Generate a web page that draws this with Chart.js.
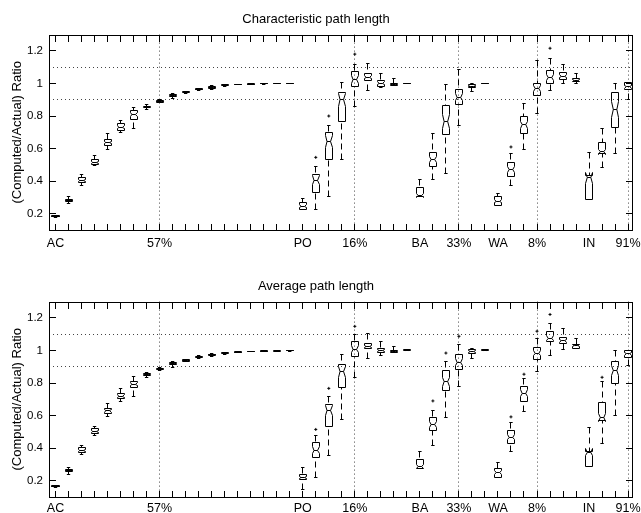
<!DOCTYPE html>
<html>
<head>
<meta charset="utf-8">
<script src="https://cdn.jsdelivr.net/npm/chart.js@4"></script>
<style>
  body { margin: 0; background: #fff; }
  canvas { position: absolute; left: 0; }
  #charChart { top: 0; }
  #avgChart { top: 267px; }
</style>
</head>
<body>
<canvas id="charChart" width="641" height="256"></canvas>
<canvas id="avgChart" width="641" height="246"></canvas>
<script>
// box positions along x (groups AC, PO, BA, WA, IN)
const boxPos = [
  0, 1, 2, 3, 4, 5, 6, 7, 8, 9, 10, 11, 12, 13, 14, 15, 16, 17, 18,
  19, 20, 21, 22, 23, 24, 25, 26, 27,
  28, 29, 30, 31, 32, 33,
  34, 35, 36, 37, 38, 39, 40,
  41, 42, 43, 44
];
const xTickPos = [0, 8, 19, 23, 28, 31, 34, 37, 41, 44];
const xTickText = ['AC', '57%', 'PO', '16%', 'BA', '33%', 'WA', '8%', 'IN', '91%'];
const yTickVals = [0.2, 0.4, 0.6, 0.8, 1, 1.2];
const yTickText = ['0.2', '0.4', '0.6', '0.8', '1', '1.2'];
const refX = [8, 23, 31, 37, 44];
const refY = [0.9, 1.1];

// Characteristic path length
const charLo  = [.178, .265, .373, .495, .596, .700, .726, .840, .880, .910, .938, .955, .965, .983, .994, .995, .996, .997, .998,
                 .225, .225, .303, .534, .860, .957, .975, .985, .997,
                 .305, .410, .450, .740, .950, .998,
                 .250, .371, .592, .814, .957, 1.000, 1.000,
                 .287, .482, .567, .900];
const charQ1  = [.181, .276, .390, .500, .621, .711, .780, .850, .886, .920, .942, .960, .972, .987, .995, .996, .997, .998, .999,
                 .227, .330, .530, .767, .979, 1.017, .980, .988, .998,
                 .307, .489, .684, .870, .978, .999,
                 .252, .427, .695, .928, 1.000, 1.025, 1.010,
                 .287, .570, .732, .963];
const charMed = [.184, .281, .404, .515, .637, .730, .808, .855, .890, .925, .946, .964, .976, .990, .995, .996, .997, .998, .999,
                 .247, .406, .643, .900, 1.025, 1.039, 1.000, .995, 1.000,
                 .313, .534, .767, .914, .984, 1.000,
                 .278, .472, .746, .970, 1.039, 1.045, 1.020,
                 .420, .582, .840, .980];
const charQ3  = [.187, .287, .420, .530, .654, .752, .833, .860, .895, .930, .950, .968, .980, .993, .996, .997, .998, .999, 1.000,
                 .266, .443, .700, .942, 1.076, 1.062, 1.019, 1.000, 1.001,
                 .359, .575, .864, .963, .995, 1.001,
                 .303, .513, .794, 1.000, 1.079, 1.066, 1.033,
                 .433, .637, .942, 1.003];
const charHi  = [.190, .305, .440, .555, .690, .770, .854, .870, .900, .940, .953, .972, .985, .995, .996, .997, .998, .999, 1.000,
                 .293, .489, .742, 1.004, 1.118, 1.120, 1.062, 1.029, 1.002,
                 .410, .695, .994, 1.087, 1.000, 1.002,
                 .324, .567, .876, 1.138, 1.153, 1.118, 1.062,
                 .575, .726, .999, 1.005];
const charOutX = [20, 21, 23, 35, 38];
const charOutY = [.546, .800, 1.180, .610, 1.216];

// Average path length
const avgLo  = [.160, .241, .359, .478, .596, .685, .715, .836, .876, .895, .930, .950, .960, .975, .988, .991, .994, .995, .996,
                .148, .221, .355, .575, .835, .953, .967, .987, .999,
                .278, .416, .588, .777, .948, 1.000,
                .221, .379, .627, .870, .969, 1.008, 1.012,
                .289, .431, .598, .905];
const avgQ1  = [.162, .258, .373, .492, .614, .705, .771, .845, .883, .913, .934, .955, .971, .982, .989, .992, .995, .996, .997,
                .205, .340, .530, .771, .963, 1.010, .990, .990, 1.000,
                .278, .509, .753, .885, .979, 1.000,
                .221, .431, .689, .942, 1.052, 1.040, 1.014,
                .289, .571, .798, .958];
const avgMed = [.165, .262, .386, .505, .629, .720, .792, .850, .887, .920, .938, .959, .975, .985, .990, .993, .996, .997, .998,
                .221, .386, .633, .870, 1.008, 1.025, 1.000, .994, 1.002,
                .287, .546, .808, .928, .994, 1.002,
                .252, .468, .736, .984, 1.076, 1.060, 1.029,
                .375, .588, .874, .979];
const avgQ3  = [.168, .266, .402, .520, .645, .736, .812, .856, .892, .926, .942, .963, .978, .988, .991, .994, .997, .998, .999,
                .238, .433, .668, .915, 1.052, 1.045, 1.010, 1.002, 1.004,
                .330, .586, .874, .973, 1.008, 1.004,
                .278, .509, .781, 1.019, 1.118, 1.080, 1.039,
                .381, .678, .932, 1.000];
const avgHi  = [.170, .283, .416, .530, .674, .767, .839, .862, .897, .930, .946, .967, .982, .990, .992, .995, .997, .998, .999,
                .283, .478, .715, .973, 1.097, 1.103, 1.056, 1.025, 1.005,
                .381, .633, .932, 1.035, 1.014, 1.004,
                .313, .560, .829, 1.076, 1.163, 1.134, 1.072,
                .524, .808, 1.000, 1.000];
const avgOutX = [20, 21, 23, 29, 30, 31, 35, 36, 37, 38, 42];
const avgOutY = [.515, .767, 1.148, .690, .984, 1.087, .592, .854, 1.118, 1.221, .835];

Chart.defaults.font.family = '"Liberation Sans", Arial, Helvetica, sans-serif';
Chart.defaults.color = '#000';

const halfBox = 0.27;    // half box width, x units
const halfCap = 0.13;    // half whisker cap width
const notchFactor = 0.23; // notch half height relative to IQR
const tickLen = 6;

const snap = v => Math.round(v - 0.5) + 0.5;

function line(ctx, x1, y1, x2, y2) {
  ctx.beginPath();
  ctx.moveTo(x1, y1);
  ctx.lineTo(x2, y2);
  ctx.stroke();
}

function drawFrame(chart) {
  const { ctx, chartArea: a, scales: { x, y } } = chart;
  const l = Math.round(a.left), r = Math.round(a.right);
  const t = Math.round(a.top), b = Math.round(a.bottom);
  ctx.save();
  ctx.fillStyle = '#000';
  ctx.fillRect(l, t, r - l + 1, 1);
  ctx.fillRect(l, b, r - l + 1, 1);
  ctx.fillRect(l, t, 1, b - t + 1);
  ctx.fillRect(r, t, 1, b - t + 1);
  // inward tick marks on all four sides
  boxPos.forEach(v => {
    const px = Math.round(x.getPixelForValue(v) - 0.5);
    ctx.fillRect(px, b - tickLen, 1, tickLen);
    ctx.fillRect(px, t + 1, 1, tickLen);
  });
  yTickVals.forEach(v => {
    const py = Math.round(y.getPixelForValue(v) - 0.5);
    ctx.fillRect(l + 1, py, tickLen, 1);
    ctx.fillRect(r - tickLen, py, tickLen, 1);
  });
  ctx.restore();
}

const boxPlugin = {
  id: 'boxes',
  beforeDatasetsDraw(chart) {
    const { ctx, chartArea: a, scales: { x, y } } = chart;
    ctx.save();
    ctx.strokeStyle = '#444';
    ctx.lineWidth = 1;
    ctx.setLineDash([1, 3]);
    refY.forEach(v => {
      const py = snap(y.getPixelForValue(v));
      line(ctx, a.left, py, a.right, py);
    });
    refX.forEach(v => {
      const px = snap(x.getPixelForValue(v));
      line(ctx, px, a.top, px, a.bottom);
    });
    ctx.restore();
  },
  afterDatasetsDraw(chart) {
    const { ctx, scales: { x, y } } = chart;
    const ds = chart.data.datasets[0];
    const s = ds.stats;
    ctx.save();
    ctx.strokeStyle = '#000';
    ctx.lineWidth = 1;
    ds.data.forEach((pt, i) => {
      const med = pt.y;
      const iqr = s.q3[i] - s.q1[i];
      const n1 = med - notchFactor * iqr;
      const n2 = med + notchFactor * iqr;
      const xc = snap(x.getPixelForValue(pt.x));
      const xl = snap(x.getPixelForValue(pt.x - halfBox));
      const xr = snap(x.getPixelForValue(pt.x + halfBox));
      const xnl = x.getPixelForValue(pt.x - halfBox / 2);
      const xnr = x.getPixelForValue(pt.x + halfBox / 2);
      const cl = x.getPixelForValue(pt.x - halfCap);
      const cr = x.getPixelForValue(pt.x + halfCap);
      const Y = v => snap(y.getPixelForValue(v));

      // dashed whiskers with short caps
      ctx.setLineDash([6, 4]);
      if (s.hi[i] > s.q3[i]) line(ctx, xc, Y(s.hi[i]), xc, Y(s.q3[i]));
      if (s.lo[i] < s.q1[i]) line(ctx, xc, Y(s.lo[i]), xc, Y(s.q1[i]));
      ctx.setLineDash([]);
      line(ctx, cl, Y(s.hi[i]), cr, Y(s.hi[i]));
      line(ctx, cl, Y(s.lo[i]), cr, Y(s.lo[i]));

      // notched box
      ctx.beginPath();
      ctx.moveTo(xl, Y(s.q1[i]));
      ctx.lineTo(xl, Y(n1));
      ctx.lineTo(xnl, Y(med));
      ctx.lineTo(xl, Y(n2));
      ctx.lineTo(xl, Y(s.q3[i]));
      ctx.lineTo(xr, Y(s.q3[i]));
      ctx.lineTo(xr, Y(n2));
      ctx.lineTo(xnr, Y(med));
      ctx.lineTo(xr, Y(n1));
      ctx.lineTo(xr, Y(s.q1[i]));
      ctx.closePath();
      ctx.stroke();
      line(ctx, xnl, Y(med), xnr, Y(med));
    });
    ctx.restore();
    drawFrame(chart);
  }
};

function makeChart(id, title, lo, q1, med, q3, hi, outX, outY, xAxisH, xPad) {
  return new Chart(document.getElementById(id), {
    type: 'scatter',
    data: {
      datasets: [{
        label: 'boxes',
        data: boxPos.map((p, i) => ({ x: p, y: med[i] })),
        stats: { lo, q1, q3, hi },
        pointRadius: 0
      }, {
        label: 'outliers',
        data: outX.map((p, i) => ({ x: p, y: outY[i] })),
        pointStyle: 'cross',
        pointRadius: 1.5,
        borderColor: '#000',
        borderWidth: 1
      }]
    },
    options: {
      responsive: false,
      animation: false,
      layout: { padding: { left: 0, right: 9, top: 0, bottom: 0 } },
      plugins: {
        legend: { display: false },
        tooltip: { enabled: false },
        title: {
          display: true,
          text: title,
          color: '#000',
          font: { size: 13, weight: 'normal' },
          padding: { top: 12, bottom: 7 }
        }
      },
      scales: {
        x: {
          type: 'linear',
          min: -0.5,
          max: 44.3,
          afterBuildTicks: s => { s.ticks = boxPos.map(v => ({ value: v })); },
          afterFit: s => {
            s.height = xAxisH;
            s.paddingLeft = 0;
            s.paddingRight = 0;
          },
          grid: { display: false, drawTicks: false },
          border: { display: false },
          ticks: {
            autoSkip: false,
            maxRotation: 0,
            padding: xPad,
            font: { size: 12.5 },
            callback: v => {
              const k = xTickPos.indexOf(v);
              return k < 0 ? '' : xTickText[k];
            }
          }
        },
        y: {
          type: 'linear',
          min: 0.1,
          max: 1.3,
          afterBuildTicks: s => { s.ticks = yTickVals.map(v => ({ value: v })); },
          afterFit: s => { s.width = 49; },
          grid: { display: false, drawTicks: false },
          border: { display: false },
          ticks: {
            padding: 6,
            font: { size: 11.5 },
            callback: (v, i) => yTickText[i]
          },
          title: {
            display: true,
            text: '(Computed/Actual) Ratio',
            font: { size: 13 },
            padding: { top: 10, bottom: 0 }
          }
        }
      }
    },
    plugins: [boxPlugin]
  });
}

makeChart('charChart', 'Characteristic path length',
  charLo, charQ1, charMed, charQ3, charHi, charOutX, charOutY, 26, 6);
makeChart('avgChart', 'Average path length',
  avgLo, avgQ1, avgMed, avgQ3, avgHi, avgOutX, avgOutY, 16, 4);
</script>
</body>
</html>
